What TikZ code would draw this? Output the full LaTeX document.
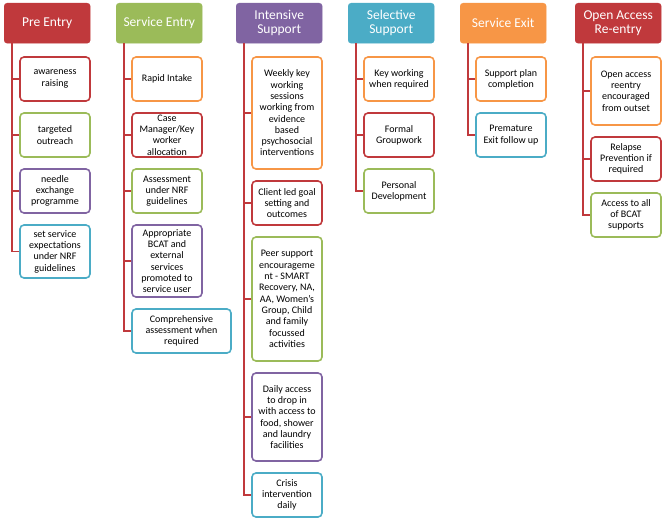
\documentclass[tikz,border=0pt]{standalone}
\usepackage{fontspec}
\setmainfont{Carlito}
\definecolor{cr}{RGB}{192,57,60}
\definecolor{cg}{RGB}{155,187,89}
\definecolor{cp}{RGB}{128,100,162}
\definecolor{cc}{RGB}{75,172,198}
\definecolor{co}{RGB}{247,150,70}
\tikzset{
 hd/.style={draw=#1,fill=#1,rounded corners=3pt,minimum width=86pt,minimum height=40pt,inner sep=1pt,text=white,font=\fontsize{13.5}{14}\selectfont,align=center,anchor=north west},
 ch/.style={draw=#1,line width=1.6pt,fill=white,rounded corners=4pt,inner sep=1pt,font=\fontsize{10}{11.3}\selectfont,align=center},
 ln/.style={draw=cr,line width=1.5pt}
}
\newcommand{\kid}[7]{% name, color, x1, y1, x2, y2, text
 \node[ch=#2,minimum width={(#5-#3)*1pt},minimum height={(#6-#4)*1pt}] (#1) at ({(#3+#5)/2*1pt},{-(#4+#6)/2*1pt}) {#7};}
\begin{document}
\begin{tikzpicture}[x=1pt,y=-1pt]
\useasboundingbox (0,0) rectangle (665,529);
\foreach \n/\c/\x/\t in {h1/cr/4/Pre Entry,h2/cg/116/Service Entry,h3/cp/236/Intensive\\Support,h4/cc/348/Selective\\Support,h5/co/460/Service Exit,h6/cr/575/Open Access\\Re-entry}
 \node[hd=\c] (\n) at (\x,3) {\t};
% Pre Entry
\kid{a1}{cr}{20}{57}{90}{101}{awareness\\raising}
\kid{a2}{cg}{20}{113}{90}{157}{targeted\\outreach}
\kid{a3}{cp}{20}{169}{90}{213}{needle\\exchange\\programme}
\kid{a4}{cc}{20}{225}{90}{278}{set service\\expectations\\under NRF\\guidelines}
% Service Entry
\kid{b1}{co}{132}{57}{202}{101}{Rapid Intake}
\kid{b2}{cr}{132}{113}{202}{157}{Case\\Manager/Key\\worker\\allocation}
\kid{b3}{cg}{132}{169}{202}{213}{Assessment\\under NRF\\guidelines}
\kid{b4}{cp}{132}{225}{202}{297}{Appropriate\\BCAT and\\external\\services\\promoted to\\service user}
\kid{b5}{cc}{132}{309}{231}{353}{Comprehensive\\assessment when\\required}
% Intensive
\kid{c1}{co}{252}{57}{322}{169}{Weekly key\\working\\sessions\\working from\\evidence\\based\\psychosocial\\interventions}
\kid{c2}{cr}{252}{181}{322}{225}{Client led goal\\setting and\\outcomes}
\kid{c3}{cg}{252}{237}{322}{361}{Peer support\\encourageme\\nt - SMART\\Recovery, NA,\\AA, Women's\\Group, Child\\and family\\focussed\\activities}
\kid{c4}{cp}{252}{373}{322}{461}{Daily access\\to drop in\\with access to\\food, shower\\and laundry\\facilities}
\kid{c5}{cc}{252}{473}{322}{517}{Crisis\\intervention\\daily}
% Selective
\kid{d1}{co}{364}{57}{434}{101}{Key working\\when required}
\kid{d2}{cr}{364}{113}{434}{157}{Formal\\Groupwork}
\kid{d3}{cg}{364}{169}{434}{213}{Personal\\Development}
% Exit
\kid{e1}{co}{476}{57}{546}{101}{Support plan\\completion}
\kid{e2}{cc}{476}{113}{546}{157}{Premature\\Exit follow up}
% Open access
\kid{f1}{co}{591}{57}{661}{125}{Open access\\reentry\\encouraged\\from outset}
\kid{f2}{cr}{591}{137}{661}{181}{Relapse\\Prevention if\\required}
\kid{f3}{cg}{591}{193}{661}{237}{Access to all\\of BCAT\\supports}
\foreach \h/\x/\l in {h1/12/{a1,a2,a3,a4},h2/124/{b1,b2,b3,b4,b5},h3/244/{c1,c2,c3,c4,c5},h4/356/{d1,d2,d3},h5/468/{e1,e2},h6/583/{f1,f2,f3}}{
 \foreach \k in \l {\draw[ln] (\h.south west -| \x,0) |- (\k.west);}
}
\end{tikzpicture}
\end{document}
